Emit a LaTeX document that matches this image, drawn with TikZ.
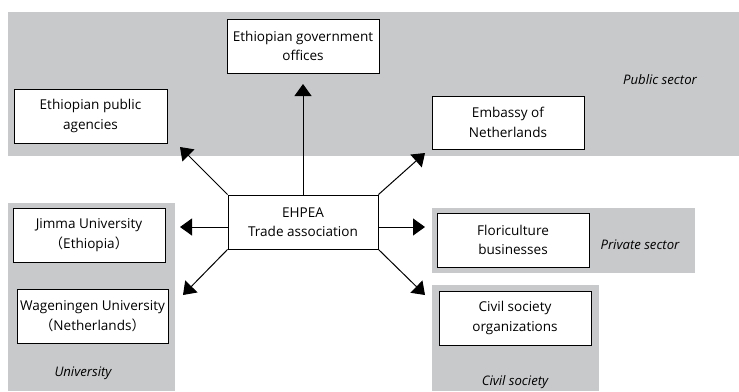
\documentclass[tikz,border=0pt]{standalone}
\usepackage{fontspec}
\setmainfont{Open Sans}
\newfontfamily\cjk{Noto Sans CJK SC}
\usetikzlibrary{arrows.meta,calc}
\definecolor{panel}{RGB}{200,201,203}
\tikzset{
  box/.style={draw=black,fill=white,line width=0.9bp,minimum width=#1,minimum height=54bp,align=center,inner sep=0pt,font=\fontsize{13.6}{19.5}\selectfont},
  box/.default=152bp,
  lbl/.style={font=\fontsize{13.2}{19.5}\selectfont\itshape,inner sep=0pt},
  arr/.style={line width=1bp,-{Triangle[length=12bp,width=17bp]}}
}
\begin{document}
\begin{tikzpicture}[x=1bp,y=-1bp]
\useasboundingbox (0,0) rectangle (739,391);
% panels
\fill[panel] (8,12) rectangle (739,156);
\fill[panel] (8,203) rectangle (175,391);
\fill[panel] (432,208) rectangle (695,273);
\fill[panel] (432,285) rectangle (599,391);
% labels
\node[lbl] (lpub) at (660,80) {Public sector};
\node[lbl] (luni) at (83,373) {University};
\node[lbl] (lpriv) at (640,245) {Private sector};
\node[lbl] (lciv) at (515,382) {Civil society};
% boxes
\node[box] (gov) at (303,46) {Ethiopian government\\offices};
\node[box=153bp] (pub) at (90.5,116) {Ethiopian public\\agencies};
\node[box,minimum height=53bp] (emb) at (508,122.5) {Embassy of\\Netherlands};
\node[box=150bp] (eh) at (303,222) {EHPEA\\Trade association};
\node[box] (jim) at (89,235) {Jimma University\\{\cjk（}Ethiopia{\cjk）}};
\node[box=151bp] (wag) at (92.5,316) {Wageningen University\\{\cjk（}Netherlands{\cjk）}};
\node[box] (flo) at (513,240) {Floriculture\\businesses};
\node[box] (civ) at (515,318) {Civil society\\organizations};
% arrow tips
\coordinate (tup) at (303,84);
\coordinate (tul) at (180,147);
\coordinate (tur) at (425,153);
\coordinate (tl) at (180,227);
\coordinate (tr) at (425,227);
\coordinate (tdl) at (183,295);
\coordinate (tdr) at (425,295);
% arrows
\draw[arr] (eh.north) -- (tup);
\draw[arr] (eh.north west) -- (tul);
\draw[arr] (eh.north east) -- (tur);
\draw[arr] (eh.west |- tl) -- (tl);
\draw[arr] (eh.east |- tr) -- (tr);
\draw[arr] (eh.south west) -- (tdl);
\draw[arr] (eh.south east) -- (tdr);
\end{tikzpicture}
\end{document}
